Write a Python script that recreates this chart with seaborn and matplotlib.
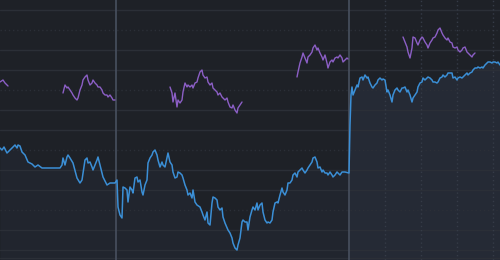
import numpy as np
import pandas as pd
import matplotlib
matplotlib.use("Agg")
import matplotlib.pyplot as plt
import seaborn as sns

# ---- data ----
blue_x = [0, 2, 4, 7, 10, 13, 15, 17, 18, 20, 22, 25, 28, 32, 35, 38, 42, 43, 60, 62, 63, 65, 67, 68, 70, 73, 77, 80, 82, 85,
          87, 88, 90, 92, 93, 95, 97, 98, 100, 103, 107, 110, 115, 117, 118, 120, 122, 123, 125, 127, 128, 130, 132, 133, 135,
          137, 138, 140, 142, 143, 145, 147, 148, 150, 152, 153, 155, 157, 158, 160, 162, 163, 165, 167, 168, 170, 172, 173,
          175, 177, 178, 180, 182, 183, 185, 187, 188, 190, 192, 193, 195, 197, 200, 202, 203, 205, 207, 208, 210, 212, 213,
          215, 217, 218, 220, 222, 223, 225, 228, 230, 232, 233, 235, 237, 238, 240, 242, 243, 245, 247, 248, 250, 252, 253,
          255, 257, 258, 260, 262, 263, 265, 267, 268, 270, 272, 273, 275, 277, 278, 280, 282, 283, 285, 287, 288, 290, 292,
          293, 295, 297, 298, 300, 302, 303, 305, 307, 308, 310, 312, 313, 315, 317, 318, 320, 322, 323, 325, 327, 328, 330,
          332, 333, 335, 337, 338, 340, 342, 345, 349, 350, 351, 352, 353, 355, 357, 358, 360, 362, 363, 365, 367, 368, 370,
          372, 373, 375, 377, 378, 380, 382, 383, 385, 387, 388, 390, 392, 393, 395, 397, 398, 400, 402, 403, 405, 407, 408,
          410, 412, 413, 415, 417, 418, 420, 422, 423, 425, 427, 428, 430, 432, 433, 435, 437, 438, 440, 442, 443, 445, 447,
          448, 450, 452, 453, 455, 457, 458, 460, 462, 463, 465, 467, 468, 470, 472, 473, 475, 477, 478, 480, 482, 483, 485,
          487, 488, 490, 492, 493, 495, 497, 498, 500]
blue_v = [112, 110, 113, 107, 110, 113, 115, 112, 115, 114, 108, 105, 98, 96, 93, 95, 92, 92, 92, 95, 102, 95, 103, 105, 102,
          97, 82, 77, 80, 100, 102, 97, 98, 93, 90, 95, 100, 103, 95, 83, 75, 77, 77, 80, 53, 45, 42, 73, 72, 70, 58, 73, 70,
          67, 82, 83, 78, 80, 68, 65, 75, 80, 97, 102, 105, 108, 110, 105, 100, 93, 98, 95, 93, 102, 107, 98, 95, 88, 82, 83,
          88, 87, 85, 82, 75, 70, 65, 67, 62, 70, 58, 55, 53, 48, 45, 40, 48, 37, 35, 57, 63, 62, 60, 53, 50, 52, 43, 37, 30,
          27, 22, 17, 12, 10, 15, 22, 38, 40, 38, 38, 30, 43, 50, 53, 50, 57, 50, 55, 57, 48, 40, 37, 38, 37, 40, 48, 57, 58,
          57, 65, 72, 68, 65, 70, 77, 77, 80, 85, 87, 83, 88, 90, 92, 90, 87, 90, 92, 95, 98, 102, 103, 98, 92, 93, 88, 90,
          87, 87, 85, 88, 85, 83, 85, 88, 87, 85, 88, 88, 87, 135, 165, 173, 165, 170, 175, 173, 182, 183, 180, 185, 182, 183,
          177, 173, 172, 175, 177, 180, 182, 180, 181, 180, 168, 170, 165, 158, 165, 170, 172, 170, 168, 172, 172, 173, 168,
          170, 165, 158, 162, 165, 168, 173, 177, 178, 182, 180, 182, 183, 182, 180, 178, 178, 177, 178, 182, 183, 185, 183,
          185, 187, 187, 187, 182, 183, 180, 182, 183, 182, 183, 185, 187, 185, 187, 188, 190, 192, 192, 193, 192, 193, 192,
          195, 197, 198, 198, 197, 198, 198, 197, 198, 195]

purple_seg1_x = [0, 3, 5, 8]
purple_seg1_v = [178, 180, 177, 174]
purple_seg2_x = [63, 65, 67, 68, 70, 72, 73, 75, 77, 78, 80, 82, 83, 85, 87, 88, 90, 92, 93, 95, 97, 98, 100, 102, 103, 105,
                 107, 108, 110, 112, 113, 115]
purple_seg2_v = [167, 175, 172, 173, 170, 167, 165, 162, 160, 162, 170, 175, 180, 183, 185, 180, 175, 177, 180, 177, 175,
                 173, 173, 170, 167, 165, 165, 163, 165, 162, 160, 160]
purple_seg3_x = [170, 172, 173, 175, 177, 178, 180, 182, 183, 185, 187, 188, 190, 192, 193, 195, 197, 198, 200, 202, 203,
                 205, 207, 208, 210, 212, 213, 215, 217, 218, 220, 222, 223, 225, 227, 228, 230, 232, 233, 235, 237, 238,
                 240, 242]
purple_seg3_v = [173, 167, 158, 167, 153, 160, 157, 160, 168, 177, 173, 175, 173, 175, 172, 177, 178, 182, 188, 190, 185,
                 182, 183, 178, 175, 177, 172, 170, 168, 165, 167, 163, 162, 160, 162, 158, 153, 152, 155, 150, 147, 152,
                 155, 158]
purple_seg4_x = [297, 298, 300, 302, 303, 305, 307, 308, 310, 312, 313, 315, 317, 318, 320, 322, 323, 325, 327, 328, 330,
                 332, 333, 335, 337, 338, 340, 342, 343, 345, 347, 348]
purple_seg4_v = [183, 188, 197, 203, 207, 202, 197, 203, 205, 208, 212, 215, 210, 212, 207, 203, 200, 205, 197, 192, 198,
                 200, 198, 202, 203, 202, 205, 202, 198, 200, 202, 201]
purple_seg5_x = [403, 405, 407, 408, 410, 412, 413, 415, 417, 418, 420, 422, 423, 425, 427, 428, 430, 432, 433, 435, 437,
                 438, 440, 442, 443, 445, 447, 448, 450, 452, 453, 455, 457, 458, 460, 462, 463, 465, 467, 468, 470, 472,
                 473, 475]
purple_seg5_v = [223, 218, 213, 208, 202, 212, 223, 222, 217, 215, 220, 223, 222, 218, 215, 212, 217, 220, 222, 223, 227,
                 230, 232, 227, 225, 222, 220, 222, 218, 217, 213, 212, 213, 210, 208, 210, 212, 213, 208, 207, 205, 203,
                 205, 207]

session_breaks = [116, 349]
minor_breaks = [385, 421, 457, 493]
h_levels = [250, 230, 210, 190, 170, 150, 130, 110, 90, 70, 50, 30, 10]

# ---- style ----
BG = "#1e2127"
GRID = "#2b2f37"
BLUE = "#3b8fd6"
PURPLE = "#8c5fc6"

sns.set_theme(style="dark", rc={"axes.facecolor": BG, "figure.facecolor": BG})

fig = plt.figure(figsize=(5.0, 2.6), dpi=100)
ax = fig.add_axes([0, 0, 1, 1])
ax.set_facecolor(BG)

bx = np.array(blue_x)
bv = np.array(blue_v)
left = bx <= 349
right = bx >= 349
ax.fill_between(bx[left], bv[left], 0, color="#2a3140", alpha=0.3, lw=0, zorder=0)
ax.fill_between(bx[right], bv[right], 0, color="#2a3140", alpha=0.6, lw=0, zorder=0)

for i, lv in enumerate(h_levels):
    ls = (0, (1, 2)) if i % 3 == 1 else "-"
    ax.axhline(lv, color=GRID, lw=1.0, ls=ls, zorder=1)
for xb in minor_breaks:
    ax.axvline(xb, color="#353b47", lw=1.0, ls=(0, (1, 2)), zorder=1)

for xb in session_breaks:
    ax.axvline(xb, color="#48505f", lw=1.2, zorder=2)

blue_df = pd.DataFrame({"x": blue_x, "v": blue_v})
sns.lineplot(data=blue_df, x="x", y="v", color=BLUE, lw=1.1, ax=ax, zorder=3)

segs = [(purple_seg1_x, purple_seg1_v), (purple_seg2_x, purple_seg2_v), (purple_seg3_x, purple_seg3_v),
        (purple_seg4_x, purple_seg4_v), (purple_seg5_x, purple_seg5_v)]
rows = []
for k, (xs, vs) in enumerate(segs):
    for xx, vv in zip(xs, vs):
        rows.append({"x": xx, "v": vv, "seg": k})
purple_df = pd.DataFrame(rows)
sns.lineplot(data=purple_df, x="x", y="v", units="seg", estimator=None, color=PURPLE, lw=1.0, ax=ax, zorder=3)

ax.axhline(2, color=GRID, lw=1.0, zorder=1)

ax.set_xlim(0, 500)
ax.set_ylim(0, 260)
ax.set_xlabel("")
ax.set_ylabel("")
ax.set_xticks([])
ax.set_yticks([])
for s in ax.spines.values():
    s.set_visible(False)

fig.savefig("out.png", dpi=100, facecolor=BG)
